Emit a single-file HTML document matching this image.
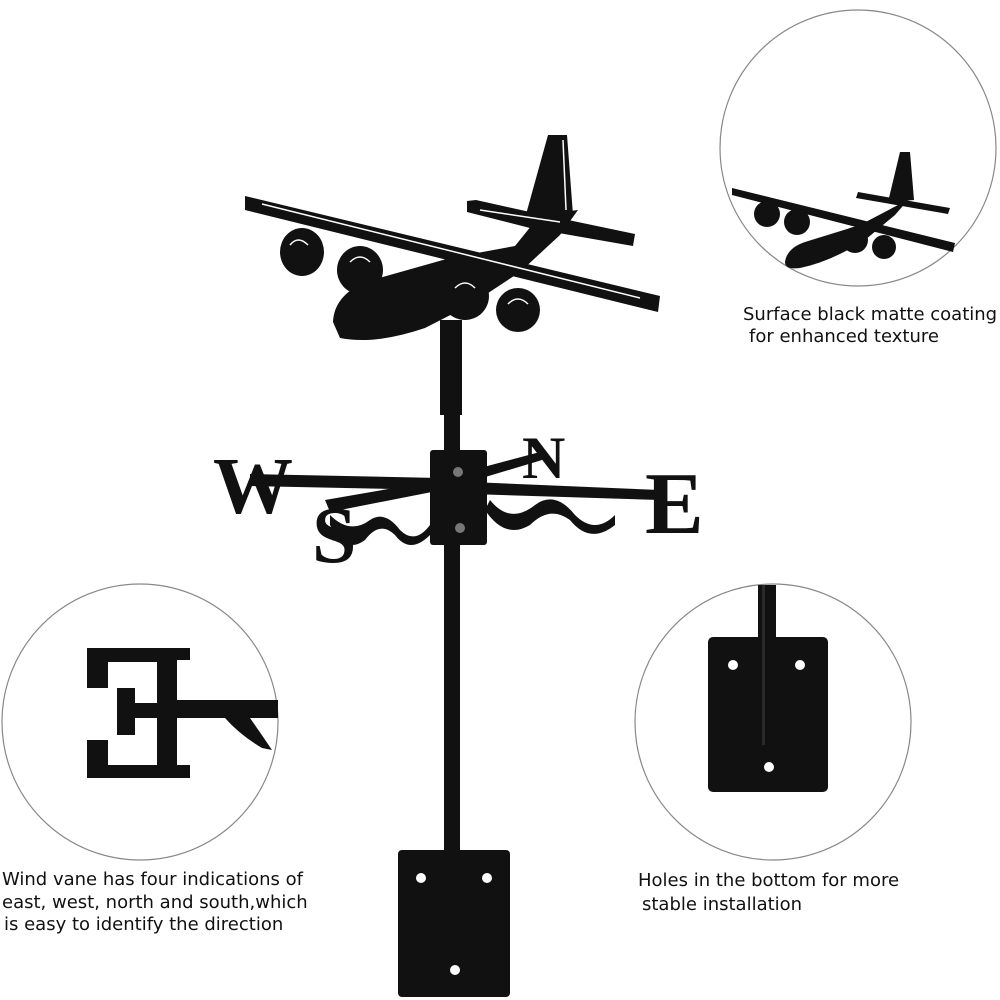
<!DOCTYPE html>
<html><head><meta charset="utf-8"><style>
html,body{margin:0;padding:0;background:#fff;}
svg{display:block;}
text{font-family:"DejaVu Sans","Liberation Sans",sans-serif;fill:#111;}
.serif{font-family:"Liberation Serif",serif;font-weight:bold;}
</style></head><body>
<svg width="1000" height="1000" viewBox="0 0 1000 1000" xmlns="http://www.w3.org/2000/svg">
<rect width="1000" height="1000" fill="#fff"/>
<circle cx="858" cy="148" r="138" fill="none" stroke="#888" stroke-width="1.2"/>
<circle cx="140" cy="722" r="138" fill="none" stroke="#888" stroke-width="1.2"/>
<circle cx="773" cy="722" r="138" fill="none" stroke="#888" stroke-width="1.2"/>

<rect x="440" y="320" width="22" height="95" fill="#111"/>
<rect x="444" y="410" width="16" height="445" fill="#111"/>
<rect x="398" y="850" width="112" height="147" rx="4" fill="#111"/>
<circle cx="421" cy="878" r="5" fill="#fff"/>
<circle cx="487" cy="878" r="5" fill="#fff"/>
<circle cx="455" cy="970" r="5" fill="#fff"/>

<g fill="#111">
<polygon points="250,474 440,478 440,490 250,486"/>
<polygon points="470,482 660,490 660,500 470,494"/>
<polygon points="325,500 440,480 442,490 330,512"/>
<polygon points="480,468 540,452 542,460 482,478"/>
<path d="M330,515 q20,20 40,5 q15,-10 30,10 q15,15 30,-5 l0,10 q-20,20 -35,0 q-15,-15 -30,5 q-20,15 -35,-15z"/>
<path d="M490,500 q20,25 45,5 q20,-15 40,10 q20,20 40,0 l0,10 q-25,20 -45,-5 q-20,-15 -40,5 q-25,15 -45,-15z"/>
<rect x="430" y="450" width="57" height="95" rx="3"/>
</g>
<circle cx="458" cy="472" r="5" fill="#777"/>
<circle cx="460" cy="528" r="5" fill="#777"/>
<text x="213" y="513" font-size="80" class="serif">W</text>
<text x="645" y="533" font-size="88" class="serif">E</text>
<text x="312" y="562" font-size="80" class="serif">S</text>
<text x="522" y="478" font-size="60" class="serif">N</text>

<g fill="#111">
<polygon points="245,196 660,296 658,312 245,210"/>
<path d="M333,322 Q334,296 365,282 L450,258 L515,246 L540,215 L578,210 L560,235 L520,272 L470,305 L425,328 Q375,345 340,338 Z"/>
<polygon points="548,135 567,135 573,215 525,218"/>
<polygon points="467,201 476,200 530,212 635,234 633,246 530,228 467,212"/>
<ellipse cx="302" cy="252" rx="22" ry="24"/>
<ellipse cx="360" cy="270" rx="23" ry="24"/>
<ellipse cx="465" cy="296" rx="24" ry="24"/>
<ellipse cx="518" cy="310" rx="22" ry="22"/>
</g>
<g stroke="#fff" stroke-width="1.5" fill="none">
<line x1="262" y1="204" x2="640" y2="298"/>
<line x1="563" y1="140" x2="566" y2="210"/>
<line x1="480" y1="210" x2="560" y2="222"/>
<path d="M290,245 q8,-10 18,0"/><path d="M350,262 q10,-10 20,0"/><path d="M455,288 q10,-10 20,0"/><path d="M508,304 q10,-10 20,0"/>
</g>

<g fill="#111">
<polygon points="732,188 955,243 953,252 732,195"/>
<path d="M785,262 Q787,248 805,242 L860,225 L898,205 L908,200 L895,215 L865,240 Q830,262 800,268 Q785,270 785,262Z"/>
<polygon points="900,152 910,152 914,200 888,202"/>
<polygon points="858,192 950,208 948,214 856,198"/>
<circle cx="767" cy="214" r="13"/>
<circle cx="797" cy="222" r="13"/>
<circle cx="855" cy="240" r="13"/>
<circle cx="884" cy="247" r="12"/>
</g>

<g fill="#111">
<path d="M87,648 H190 V660 H177 V700 H278 V718 H250 Q262,735 272,750 L262,748 Q240,735 225,718 H177 V765 H190 V778 H87 V740 H108 V765 H157 V718 H135 V735 H117 V688 H135 V703 H157 V662 H108 V688 H87 Z"/>
</g>

<rect x="708" y="637" width="120" height="155" rx="5" fill="#111"/>
<rect x="758" y="585" width="18" height="160" fill="#111"/>
<rect x="762" y="585" width="3" height="160" fill="#2a2a2a"/>
<circle cx="733" cy="665" r="5" fill="#fff"/>
<circle cx="800" cy="665" r="5" fill="#fff"/>
<circle cx="769" cy="767" r="5" fill="#fff"/>

<text x="743" y="320" font-size="18">Surface black matte coating</text>
<text x="749" y="342" font-size="18">for enhanced texture</text>
<text x="2" y="885" font-size="18">Wind vane has four indications of</text>
<text x="2" y="908" font-size="18">east, west, north and south,which</text>
<text x="4" y="930" font-size="18">is easy to identify the direction</text>
<text x="638" y="886" font-size="18">Holes in the bottom for more</text>
<text x="642" y="910" font-size="18">stable installation</text>
</svg>
</body></html>
